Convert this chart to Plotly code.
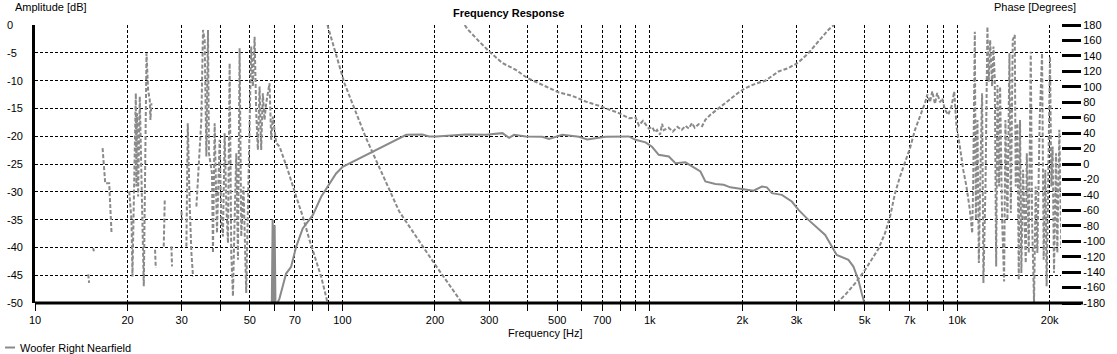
import plotly.graph_objects as go

# ---------------- data ----------------
amp_freq = [58.7, 59.3, 59.8, 60.2, 60.7, 60.9, 62.4, 64.0, 65.6, 68.1, 70.7, 74.3, 80.1, 85.3,
            90.8, 95.4, 100.2, 108, 119.4, 131.9, 142.1, 153.1, 161.3, 181.9, 191.7, 202, 252,
            292.8, 331.6, 348.5, 361.8, 394.9, 446.9, 469.9, 519.2, 588.1, 625.8, 718, 803.5,
            854.9, 898.5, 968.3, 1017, 1056, 1069, 1153, 1212, 1306, 1372, 1461, 1516, 1635,
            1739, 1828, 1994, 2176, 2315, 2403, 2496, 2689, 2897, 3046, 3282, 3720, 4056, 4427,
            4596, 4771, 4890, 5015, 5200]
amp_db = [-60, -35, -60, -36, -55, -50.5, -49.2, -47.1, -44.7, -43.5, -39.9, -36.6, -34.2, -30.9,
          -28.5, -26.7, -25.5, -24.6, -23.4, -22.2, -21.2, -20.3, -19.75, -19.7, -20.05, -20.05, -19.7,
          -19.75, -19.45, -20.3, -19.75, -20.05, -20.1, -20.5, -19.75, -20.1, -20.6, -20.1, -20.05,
          -20.05, -20.65, -21.1, -21.9, -23, -23.35, -23.65, -24.85, -24.7, -25.45, -26.35, -28.15, -28.6,
          -28.75, -29.2, -29.5, -29.8, -29.05, -29.2, -30.25, -30.55, -31.75, -33.25, -35.05, -37.75, -41.35, -42.25,
          -43.45, -45.85, -48.25, -50.4, -56]

# low-frequency noisy phase (None = gap in the trace)
phase_lf_freq = [14.9, 15.0, 15.2, 15.46, 15.55, 16.0, 16.59, 16.75, 16.92, 17.43, 17.56, 17.74, 19.0,
                 20.25, 20.6, 20.75, 21.28, 21.38, 21.49, 21.65, 21.92, 22.09, 22.2, 22.36, 22.59,
                 23.05, 23.33, 23.62, 23.74, 23.92, 24.3, 24.58, 24.71, 25.5, 26.23, 26.43, 27.1,
                 27.78, 27.91, 29.0, 29.94, 30.09, 30.6, 31.08, 31.4, 31.87, 32.27, 32.66, 33.1,
                 33.5, 34.16, 34.76, 35.2, 35.64, 36.09, 36.54, 36.8, 37.64, 37.93, 38.41, 39.08,
                 39.87, 40.37, 40.87, 41.4, 41.92, 42.44, 42.97, 43.5, 44.05, 44.6, 45.16, 45.73,
                 46.3, 46.88, 47.68, 48.65, 49.27, 50.5, 51.14, 51.8, 52.44, 53.1, 53.77, 54.43,
                 55.1, 55.8, 56.5, 57.94, 58.67, 59.4, 60.15, 60.91, 62.44]
phase_lf_deg = [-143, -154, None, -109, -113, None, 20.5, -9.7, -24.8, -24.8, -55, -89.4, None,
                -35.5, -72.2, -145.5, 91.6, -29.1, 65.8, -42, 87.3, 22.6, -16.2, -98, -158.4,
                143.4, 95.9, 83, 57.1, 78.7, None, -111, -134.7, None, -106.7, -46.3, None,
                -106.7, -132.6, None, -61.4, -72.2, None, -106.7, 52.8, -55, -115.3, -145.5, None,
                -55, 14, 57.1, 173.5, 160.6, 9.7, 173.5, 14, -11.8, -115.3, 52.8, -89.4,
                31.3, -72.2, -93.7, 39.9, -55, -102.4, 130.4, -115.3, -171.3, -72.2, 14, -124,
                149.8, -93.7, -29.1, -167, -63.6, 152, 100.2, 164.9, 65.8, 18.3, 100.2, 18.3,
                91.6, 57.1, 78.7, 104.6, 31.3, 61.4, 44.2, 27, 22.6]

# smooth (wrapped) phase sweep
sweep_freq = [66.45, 70.74, 74.33, 78.14, 82.14, 85.27, 88.53, 89.4, 89.4, 89.4, 90.27, 101.5,
              119.4, 138.7, 153.1, 200, 245, 247, 250, 255, 278.5, 300.1, 331.5, 366.4, 399.6,
              446.9, 506.4, 559.4, 618.3, 683.2, 736.1, 793.3, 854.9, 900, 921.2, 950, 992.6,
              1017, 1040, 1056, 1080, 1096, 1110, 1150, 1188, 1230, 1270, 1306, 1340, 1372, 1400,
              1441, 1480, 1516, 1574, 1675, 1805, 1945, 2045, 2204, 2374, 2496, 2623, 2827, 3046,
              3282, 3538, 3813, 3975, 4000, 4056, 4319, 4654, 5015, 5540, 5825, 6047, 6278, 6516,
              6764, 7022, 7290, 7568, 7856, 7993, 8155, 8296, 8465, 8610, 8788, 8940, 9121, 9350,
              9583, 9779, 9948, 10205, 10460, 10720, 10995, 11187]
sweep_deg = [-8, -42.2, -68.1, -98.3, -124.3, -145.9, -171.8, -180, None, 180, 174, 104.8,
             33.5, -24.8, -61.6, -130, -180, None, 180, 174.8, 158.7, 145.8, 130.7, 122, 111.3,
             102.6, 92.6, 88.3, 81, 75.4, 71.1, 65.9, 59.4, 60, 50, 56, 46,
             48, 41, 44, 38, 52, 44, 47, 42, 48, 44, 49.5, 46, 53, 47,
             51.6, 49, 57.2, 63.7, 72.4, 83.2, 92.6, 98.3, 103.9, 107.8, 113.4, 119.8, 124.3, 131.5,
             143.7, 158.7, 173.9, 180, None, -180, -169.6, -154.5, -137.2, -110, -89.6, -68.1, -37.8, -16.3,
             1.1, 20.5, 44.3, 61.5, 78.9, 90, 80, 94, 78, 92, 80, 85, 70.2, 63.7,
             74.5, 93.9, 48.6, 22.6, -7.6, -29.2, -59.4, -89.6]

# high-frequency noisy phase
phase_hf_freq = [11270, 11410, 11500, 11640, 11760, 11930, 12050, 12170, 12360, 12540, 12670, 12800,
                 12990, 13120, 13250, 13390, 13520, 13690, 13790, 14000, 14210, 14350, 14570, 14790,
                 14940, 15160, 15390, 15500, 15700, 15860, 16010, 16170, 16380, 16710, 16840, 17090,
                 17350, 17520, 17780, 18000, 18230, 18550, 18880, 19110, 19350, 19540, 19790, 20040,
                 20240, 20440, 20650, 20960, 21170, 21490, 21810]
phase_hf_deg = [-29.1, 171.4, -72.2, 57.1, -128.2, 14, 91.6, -154.1, -29.1, 177.8, 106.7, 160.6,
                100.2, 152, 108.9, -132.6, 102.4, -29.1, 100.2, -72.2, -152, 57.1, -72.2, 143.4,
                -63.6, 160.6, 167.1, -29.1, 52.8, -149.8, 57.1, -141.2, -7.5, -128.2, 14, -115.3,
                145.5, -72.2, -179, -29.1, -115.3, 57.1, 143.4, -123.9, -7.5, -158.4, 14, 139,
                -29.1, 22.6, -141.2, 14, -115.3, 44.2, -106.7]

x_tick_labels = {10: "10", 20: "20", 30: "30", 50: "50", 70: "70", 100: "100", 200: "200",
                 300: "300", 500: "500", 700: "700", 1000: "1k", 2000: "2k", 3000: "3k",
                 5000: "5k", 7000: "7k", 10000: "10k", 20000: "20k"}
amp_ticks = [0, -5, -10, -15, -20, -25, -30, -35, -40, -45, -50]
phase_ticks = list(range(180, -181, -20))

# ---------------- figure ----------------
W, H = 1117, 354
L, R, T, B = 35, 1063, 25, 303
FONT = "Liberation Sans, Arial, sans-serif"
GRAY = "#8a8a8a"


def px(x):
    return (x - L) / (R - L)


def py(y):
    return (B - y) / (B - T)


phase_freq = phase_lf_freq + sweep_freq + phase_hf_freq
phase_deg = phase_lf_deg + sweep_deg + phase_hf_deg

fig = go.Figure()
fig.add_trace(go.Scatter(x=phase_freq, y=phase_deg, yaxis="y2", mode="lines",
                         line=dict(color=GRAY, width=2, dash="4px,2px"),
                         connectgaps=False, hoverinfo="skip"))
fig.add_trace(go.Scatter(x=amp_freq, y=amp_db, mode="lines",
                         line=dict(color=GRAY, width=2), hoverinfo="skip"))

grid_vals = []
for dec in [10, 100, 1000, 10000]:
    for m in range(1, 10):
        v = m * dec
        if v <= 21700:
            grid_vals.append(v)
grid_text = [x_tick_labels.get(v, "") for v in grid_vals]

fig.update_layout(
    width=W, height=H,
    margin=dict(l=L, r=W - R, t=T, b=H - B),
    paper_bgcolor="white", plot_bgcolor="white",
    showlegend=False,
    font=dict(family=FONT, size=11, color="black"),
    xaxis=dict(type="log", range=[1, 1 + (R - L) / 308.0],
               tickmode="array", tickvals=grid_vals, ticktext=grid_text,
               showgrid=True, gridcolor="black", gridwidth=1, griddash="3px,2px",
               ticks="outside", ticklen=7, tickwidth=1, tickcolor="black",
               showline=False, zeroline=False,
               tickfont=dict(family=FONT, size=11, color="black")),
    yaxis=dict(range=[-50, 0], tickmode="array", tickvals=amp_ticks,
               showticklabels=False, ticks="",
               showgrid=True, gridcolor="black", gridwidth=1, griddash="3px,2px",
               showline=True, linecolor="black", linewidth=3, zeroline=False),
    yaxis2=dict(range=[-180, 180], overlaying="y", side="right",
                tickmode="array", tickvals=phase_ticks, ticktext=[str(v) for v in phase_ticks],
                ticks="outside", ticklen=19, tickwidth=3, tickcolor="black",
                showgrid=False, zeroline=False, showline=False,
                tickfont=dict(family=FONT, size=11, color="black")),
)

# bottom axis line (extends under the right-axis ticks)
fig.add_shape(type="line", xref="paper", yref="paper", x0=px(35), x1=px(1085), y0=0, y1=0,
              line=dict(color="black", width=3))
# legend swatch
fig.add_shape(type="line", xref="paper", yref="paper", x0=px(5), x1=px(15), y0=py(347.5), y1=py(347.5),
              line=dict(color=GRAY, width=2))

ann = []
for v in amp_ticks:
    ann.append(dict(xref="paper", yref="y", x=px(5), y=v, text=str(v), showarrow=False,
                    xanchor="left", yanchor="middle", font=dict(family=FONT, size=11, color="black")))
ann += [
    dict(xref="paper", yref="paper", x=px(13), y=py(7.5), text="Amplitude [dB]", showarrow=False,
         xanchor="left", yanchor="middle", font=dict(family=FONT, size=11, color="black")),
    dict(xref="paper", yref="paper", x=px(994), y=py(7.5), text="Phase [Degrees]", showarrow=False,
         xanchor="left", yanchor="middle", font=dict(family=FONT, size=11, color="black")),
    dict(xref="paper", yref="paper", x=px(509), y=py(12.5), text="<b>Frequency Response</b>",
         showarrow=False, xanchor="center", yanchor="middle",
         font=dict(family=FONT, size=11, color="black")),
    dict(xref="paper", yref="paper", x=px(546), y=py(333), text="Frequency [Hz]", showarrow=False,
         xanchor="center", yanchor="middle", font=dict(family=FONT, size=11, color="black")),
    dict(xref="paper", yref="paper", x=px(18), y=py(347.5),
         text="Woofer Right Nearfield",
         showarrow=False, xanchor="left", yanchor="middle",
         font=dict(family=FONT, size=11, color="black")),
]
fig.update_layout(annotations=ann)

fig.write_html("out.html")
